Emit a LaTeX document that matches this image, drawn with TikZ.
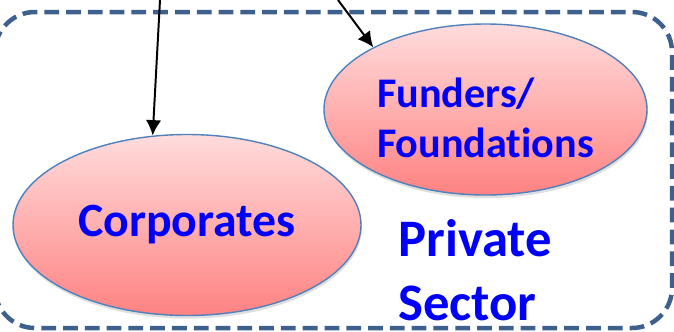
\documentclass[tikz,border=0pt]{standalone}
\usepackage{fontspec}
\newfontfamily\calibri[Ligatures=NoCommon]{Carlito}
\usepackage{tikz}
\usetikzlibrary{arrows.meta,shapes.geometric,shadows}
\definecolor{sectorline}{RGB}{61,96,140}
\definecolor{blobline}{RGB}{79,129,189}
\definecolor{blobtop}{RGB}{255,220,220}
\definecolor{blobbottom}{RGB}{255,130,130}
\definecolor{labelblue}{RGB}{0,0,250}
\tikzset{
  blob/.style={ellipse, draw=blobline, line width=1pt, top color=blobtop, bottom color=blobbottom,
    drop shadow={shadow xshift=0.6pt, shadow yshift=-2.2pt, opacity=0.25}, inner sep=0pt,
    font=\calibri\bfseries, text=labelblue},
  feed/.style={-{Latex[length=11pt,width=11pt]}, line width=1.4pt, black}
}
\begin{document}
\begin{tikzpicture}
\useasboundingbox (0cm,0cm) rectangle (16.85cm,-8.275cm);
\draw[sectorline, line width=3.2pt, dash pattern=on 10.5pt off 5pt, rounded corners=1cm] (-0.125cm,-0.3cm) rectangle (16.8cm,-8.2cm);
\node[blob, minimum width=8.7cm, minimum height=4.525cm, font=\calibri\bfseries\fontsize{34}{40}\selectfont] (corp) at (4.675cm,-5.625cm) {Corporates};
\node[blob, minimum width=8.075cm, minimum height=4.275cm, align=left, text height=69pt, font=\calibri\bfseries\fontsize{30}{35.6}\selectfont] (fund) at (12.1375cm,-2.7375cm) {Funders/\\Foundations};
\node[anchor=base west, inner sep=0pt, align=left, text=labelblue, font=\calibri\bfseries\fontsize{37.5}{45}\selectfont] (priv) at (9.95cm,-8.0cm) {Private\\Sector};
\coordinate (src1) at (4.0cm,0cm);
\coordinate (src2) at (8.45cm,0cm);
\draw[feed] (src1) -- (corp.111);
\draw[feed] (src2) -- (fund.151);
\end{tikzpicture}
\end{document}
